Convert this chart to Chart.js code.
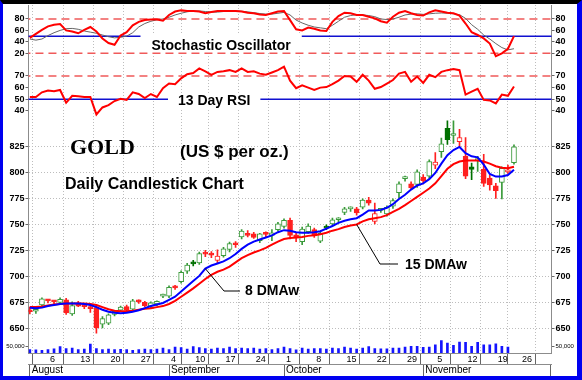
<!DOCTYPE html>
<html>
<head>
<meta charset="utf-8">
<title>Gold daily candlestick chart</title>
<script src="https://cdn.jsdelivr.net/npm/chart.js@4.4.1/dist/chart.umd.min.js"></script>
<style>
  html, body { margin: 0; padding: 0; background: #fff; }
  #frame {
    position: absolute; left: 0; top: 0;
    width: 574px; height: 372px;
    border-top: 4px solid #000;
    border-left: 3px solid #0000f0;
    border-right: 5px solid #0000f0;
    border-bottom: 4px solid #0000f0;
    background: #fff;
  }
  canvas { display: block; }
</style>
</head>
<body>
<div id="frame"><canvas id="chart" width="574" height="372"></canvas></div>
<script>
// trading days shown on the axis (data stops on 11/23, axis runs on to 12/3)
const dates = [
  "8/1", "8/2", "8/3", "8/6", "8/7", "8/8", "8/9", "8/10", "8/13", "8/14", "8/15", "8/16", "8/17",
  "8/20", "8/21", "8/22", "8/23", "8/24", "8/27", "8/28", "8/29", "8/30", "8/31",
  "9/4", "9/5", "9/6", "9/7", "9/10", "9/11", "9/12", "9/13", "9/14", "9/17", "9/18", "9/19", "9/20", "9/21",
  "9/24", "9/25", "9/26", "9/27", "9/28",
  "10/1", "10/2", "10/3", "10/4", "10/5", "10/8", "10/9", "10/10", "10/11", "10/12", "10/15", "10/16", "10/17",
  "10/18", "10/19", "10/22", "10/23", "10/24", "10/25", "10/26", "10/29", "10/30", "10/31",
  "11/1", "11/2", "11/5", "11/6", "11/7", "11/8", "11/9", "11/12", "11/13", "11/14", "11/15", "11/16",
  "11/19", "11/20", "11/21", "11/23", "11/26", "11/27", "11/28", "11/29", "11/30", "12/3"
];

const open = [
  668.5, 667, 673, 677.5, 676.5, 675.5, 678, 664.5, 675, 672.5, 671, 670.5, 654.5, 655.5, 664, 668, 671.5,
  669, 676.5, 675.5, 672, 674, 681.5, 681.5, 690.5, 695.5, 705.5, 714.5, 713.5, 722.5, 723, 716, 720.5,
  726.5, 731.5, 738.5, 742, 741.5, 735, 741.5, 740, 745.5, 748.5, 754.5, 740.5, 734, 743.5, 745.5, 734.5,
  748.5, 751, 755, 762, 765.5, 765.5, 767, 774, 753.5, 764, 760.5, 768, 781, 794.5, 789.5, 789, 796, 797,
  807.5, 820.5, 843, 836, 830, 816, 806, 812, 803.5, 795, 787.5, 791, 801, 810
];
const high = [
  671, 670, 680, 678.5, 677.5, 680, 679.5, 676, 676.5, 674.5, 674, 673, 662, 664.5, 668, 672, 673,
  678.5, 678, 676.5, 676, 677, 683.5, 691.5, 692, 706, 713, 716, 724, 725.5, 724.5, 726, 728.5,
  733.5, 734, 745.5, 744.5, 743, 742, 743.5, 745.5, 752.5, 756, 756.5, 742, 748, 751, 747, 743,
  750, 756.5, 757, 767, 767.5, 767, 775, 776.5, 771, 766, 768.5, 775, 791.5, 797, 791.5, 803, 798.5, 812.5,
  819.5, 833.5, 850, 850, 842, 834, 809.5, 816, 818, 798, 790, 806, 807.5, 827
];
const low = [
  664.5, 665, 671, 675, 674, 675, 664, 663, 671.5, 669.5, 666, 646, 651, 654, 662.5, 667, 667.5,
  668, 674.5, 671.5, 670.5, 672.5, 680, 680, 688, 694, 703.5, 710.5, 712, 719.5, 718.5, 713.5, 719,
  724, 728.5, 736.5, 738.5, 737, 733, 738, 735, 744, 747, 736.5, 734, 731, 742, 738, 733,
  745.5, 749.5, 753, 760, 763, 759.5, 765.5, 769, 751, 762, 758.5, 766, 776, 792, 784, 786, 789.5, 795,
  804, 815, 827.5, 828.5, 825, 794.5, 793.5, 801.5, 787, 783.5, 775.5, 775, 799.5, 808.5
];
const close = [
  666.5, 668.5, 679, 677, 676, 678.5, 665.5, 672.5, 672, 671.5, 669.5, 651, 660, 663.5, 667, 671, 668,
  677, 676, 672.5, 675, 676.5, 682, 690, 689.5, 704.5, 711.5, 712.5, 722.5, 722, 721, 720, 727,
  732, 731, 744, 740, 738, 741.5, 741, 742.5, 751, 754.5, 740, 737.5, 746, 749, 739.5, 742,
  747, 755, 755.5, 765.5, 766, 761.5, 774, 771, 761, 764.5, 767, 773.5, 789.5, 795.5, 785.5, 801, 792.5, 811,
  810.5, 828, 832, 837, 834, 797, 803.5, 812.5, 790, 788.5, 783, 804.5, 803, 825
];

// 8 and 15 day weighted moving averages
const ma8 = [
  670.5, 670, 670.5, 672, 673, 674, 674.5, 674.5, 674.5, 674, 673, 671, 668.5, 666.5, 665.5, 665, 665.5,
  666.5, 668, 670, 672, 673.5, 675, 678, 681, 686, 691, 696, 701, 708, 711, 713, 715,
  718, 722, 727, 731, 734, 736, 738, 740, 743, 745, 744.5, 743, 742.5, 742.5, 743, 744,
  746.5, 749, 752, 754, 755.5, 756.5, 760, 764, 764, 764.5, 766.5, 770, 775, 779, 784, 788, 790, 794,
  800, 809, 817, 822, 825, 819, 816, 815, 808, 799, 796.5, 796.5, 798, 803
];
const ma15 = [
  671, 671, 671.5, 672.5, 673.5, 674, 674.5, 674.5, 674.5, 674.5, 674, 673, 671, 669, 667.5, 667, 667,
  667.5, 668.5, 669.5, 670, 671, 672, 674, 677, 681, 685, 689, 693.5, 698, 702, 705, 707,
  710, 714, 718, 721, 723.5, 725.5, 728, 731, 734, 736.5, 737.5, 738, 738.5, 739.5, 740, 741,
  742.5, 744.5, 746, 748, 749.5, 750.5, 753.5, 755.5, 756.5, 757.5, 759.5, 762.5, 765.5, 769, 773, 777, 781, 785,
  790, 797, 804, 808.5, 811, 812, 812, 812, 811, 809, 806.5, 805, 804.5, 806
];

const stochK = [
  47, 54, 61, 67, 70, 71, 60, 58, 55, 61, 66, 58, 46, 38, 35, 51, 57,
  69, 75, 78, 79, 79, 77, 87, 93, 95, 94, 94, 93, 90, 92, 94, 94,
  94, 94, 93, 91, 90, 88, 87, 90, 93, 94, 78, 62, 60, 65, 63, 60,
  59, 75, 85, 91, 90, 87, 87, 84, 81, 76, 73.5, 84, 91, 94, 90, 87, 86, 91.5,
  95, 93, 91, 90, 86, 72, 57, 52, 46, 37, 15, 20, 28, 50
];
const stochD = [
  45, 43, 45, 51, 56, 60, 63, 63.5, 62, 59, 57, 55, 52, 49, 47, 48, 50,
  56, 66, 72, 76, 78.5, 80, 83, 87, 90, 92.5, 94, 94, 93, 92, 92, 93,
  93.5, 94, 93.5, 92.5, 91, 89.5, 88.5, 88.5, 90, 91.5, 87, 78, 73, 69, 66, 64.5,
  63, 69, 76, 83, 86, 87.5, 87, 86, 84, 80, 79, 80, 83, 87, 88.5, 89, 88, 89,
  90, 90.5, 90, 89, 87.5, 81, 70, 62, 52, 45, 37, 30, 26, 28
];
const rsi13 = [
  52, 52, 56, 57.5, 57, 58, 47, 53, 52.5, 52, 52, 37, 43, 45, 48.5, 50.5, 49.5,
  56, 54.5, 51, 54.5, 52, 59.5, 63.5, 63, 68, 71.5, 72.5, 76.5, 74, 71, 73.5, 74,
  75, 73.5, 76.5, 73.5, 74, 72, 71, 73, 75, 78, 66, 59.5, 62, 60, 58, 60,
  60.5, 63, 66, 70, 69.5, 65, 71, 66, 59, 60.5, 63.5, 66.5, 72, 73.5, 65, 69.5, 64, 71,
  69, 73.5, 75, 76, 75, 54, 56.5, 59, 49.5, 49, 46.5, 54, 53, 61
];
const volume = [
  28000, 26000, 22000, 27000, 34000, 52000, 36000, 40000, 27000, 32000, 72000, 36000, 28000, 32000, 27000, 30000, 27000,
  22000, 28000, 32000, 27000, 31000, 40000, 27000, 48000, 44000, 32000, 52000, 44000, 36000, 32000, 40000, 36000,
  48000, 36000, 40000, 36000, 40000, 32000, 36000, 28000, 36000, 48000, 36000, 26000, 40000, 32000, 36000, 36000,
  32000, 40000, 36000, 48000, 40000, 32000, 40000, 52000, 36000, 34000, 34000, 40000, 40000, 48000, 54000, 54000, 46000, 48000,
  66000, 100000, 80000, 62000, 88000, 86000, 54000, 86000, 66000, 66000, 74000, 54000, 48000
];

const stochLevels = [80, 20];
const stochMid = 50;
const rsiLevels = [70];
const rsiMid = 50;

const weekTicks = ["8/6", "8/13", "8/20", "8/27", "9/4", "9/10", "9/17", "9/24", "10/1", "10/8", "10/15",
  "10/22", "10/29", "11/5", "11/12", "11/19", "11/26", "12/3"];
const weekTickLabels = ["6", "13", "20", "27", "4", "10", "17", "24", "1", "8", "15", "22", "29", "5", "12", "19", "26", ""];
const monthTicks = ["8/1", "9/4", "10/1", "11/1", "12/3"];
const monthLabels = ["August", "September", "October", "November", ""];
const priceTicks = [650, 675, 700, 725, 750, 775, 800, 825];
const stochTicks = [20, 40, 60, 80];
const rsiTicks = [40, 50, 60, 70];
const volumeTicks = [50000];

(function () {
    const FONT = '"Liberation Sans", Arial, sans-serif';
    Chart.defaults.font.family = FONT;

    const weekIdx = weekTicks.map((d) => dates.indexOf(d));
    const monthIdx = monthTicks.map((d) => dates.indexOf(d));
    const xMin = -0.22;
    const xMax = 86.2;

    const GREEN = "#3a9a3a";
    const GREEN_FILL = "#007000";
    const RED = "#ff2020";

    function candleStyle(i) {
        if (i == null) return { line: GREEN, fill: "#fff" };
        const prev = i > 0 ? close[i - 1] : open[i];
        const up = close[i] >= prev;
        const hollow = close[i] >= open[i];
        const line = up ? (hollow ? GREEN : GREEN_FILL) : RED;
        return { line, fill: hollow ? "#fff" : line };
    }

    const xy = (arr) => arr.map((v, i) => ({ x: i, y: v }));
    const span = (v) => [{ x: xMin - 1, y: v }, { x: xMax + 1, y: v }];

    function level(v, axis, color, dash) {
        return {
            type: "line", data: span(v), yAxisID: axis,
            borderColor: color, borderWidth: 1.5, borderDash: dash,
            pointRadius: 0, order: 8,
        };
    }

    /* one panel axis; left and right stacks mirror each other */
    function panelAxis(side, weight, stackWeight, min, max, values, extra) {
        return Object.assign({
            type: "linear", position: side, stack: side + "Stack", stackWeight, weight,
            min, max,
            afterBuildTicks: (s) => { s.ticks = values.map((v) => ({ value: v })); },
            afterFit: (s) => {
                s.width = 25.5;
                s.paddingTop = 0; s.paddingBottom = 0; s.paddingLeft = 0; s.paddingRight = 0;
            },
            ticks: { autoSkip: false, color: "#000", font: { size: 9, weight: "bold" }, padding: 1 },
            grid: { drawOnChartArea: false, tickLength: 3, tickColor: "#666" },
            border: { color: "#8c8c8c" },
        }, extra || {});
    }

    const priceGrid = { drawOnChartArea: true, color: "#bdbdbd", tickLength: 3, tickColor: "#666" };
    const volTicks = { autoSkip: false, color: "#000", font: { size: 6 }, padding: 1 };

    const labels = {
        id: "labels",
        afterDatasetsDraw(chart) {
            const ctx = chart.ctx;
            const { x, yPrice } = chart.scales;
            ctx.save();
            ctx.font = "bold 14px " + FONT;
            ctx.fillStyle = "#000";
            // panel names sit on a white patch that breaks the blue 50 line
            [["Stochastic Oscillator", 148.5, 46, 31, 17, 11], ["13 Day RSI", 175, 100.5, 89, 15, 10]]
                .forEach(([t, tx, ty, by, bh, pad]) => {
                    const w = ctx.measureText(t).width;
                    ctx.fillStyle = "#fff";
                    ctx.fillRect(tx - pad, by, w + pad * 2, bh);
                    ctx.fillStyle = "#000";
                    ctx.fillText(t, tx, ty);
                });

            // moving average call-outs
            ctx.strokeStyle = "#000";
            ctx.lineWidth = 1;
            const callouts = [
                { text: "8 DMAw", series: ma8, idx: 29, mid: [221, 287], end: [237, 287], tx: 242, ty: 291 },
                { text: "15 DMAw", series: ma15, idx: 54, mid: [377, 260], end: [395, 260], tx: 402, ty: 264.5 },
            ];
            callouts.forEach((c) => {
                ctx.beginPath();
                ctx.moveTo(x.getPixelForValue(c.idx), yPrice.getPixelForValue(c.series[c.idx]));
                ctx.lineTo(c.mid[0], c.mid[1]);
                ctx.lineTo(c.end[0], c.end[1]);
                ctx.stroke();
                ctx.fillText(c.text, c.tx, c.ty);
            });

            ctx.font = "bold 22px \"Liberation Serif\", \"Times New Roman\", serif";
            ctx.fillText("GOLD", 67, 149.5);
            ctx.font = "bold 17px " + FONT;
            ctx.fillText("(US $ per oz.)", 177, 152.5);
            ctx.font = "bold 16px " + FONT;
            ctx.fillText("Daily Candlestick Chart", 62, 184.5);
            ctx.restore();
        },
    };

    new Chart(document.getElementById("chart"), {
        type: "line",
        data: {
            datasets: [
                { type: "line", label: "%K", data: xy(stochK), yAxisID: "yStoch", borderColor: "#ff0000", borderWidth: 2, pointRadius: 0, order: 1 },
                { type: "line", label: "%D", data: xy(stochD), yAxisID: "yStoch", borderColor: "#666", borderWidth: 1, pointRadius: 0, order: 2 },
                level(stochLevels[0], "yStoch", "#f05a5a", [8, 5]),
                level(stochLevels[1], "yStoch", "#f05a5a", [8, 5]),
                level(stochMid, "yStoch", "#1010d0", []),
                { type: "line", label: "RSI", data: xy(rsi13), yAxisID: "yRsi", borderColor: "#ff0000", borderWidth: 2, pointRadius: 0, order: 1 },
                level(rsiLevels[0], "yRsi", "#f05a5a", [8, 5]),
                level(rsiMid, "yRsi", "#1010d0", []),
                { type: "line", label: "8 DMAw", data: xy(ma8), yAxisID: "yPrice", borderColor: "#0000ff", borderWidth: 2, pointRadius: 0, order: 0 },
                { type: "line", label: "15 DMAw", data: xy(ma15), yAxisID: "yPrice", borderColor: "#ff0000", borderWidth: 2, pointRadius: 0, order: 1 },
                {
                    type: "bar", label: "Body", yAxisID: "yPrice",
                    data: open.map((o, i) => ({ x: i, y: [o, close[i]] })),
                    barThickness: 5, grouped: false, borderSkipped: false, minBarLength: 2, borderWidth: 1,
                    borderColor: (c) => candleStyle(c.dataIndex).line,
                    backgroundColor: (c) => candleStyle(c.dataIndex).fill,
                    order: 3,
                },
                {
                    type: "bar", label: "Wick", yAxisID: "yPrice",
                    data: high.map((h, i) => ({ x: i, y: [low[i], h] })),
                    barThickness: 1, grouped: false, borderWidth: 0,
                    backgroundColor: (c) => candleStyle(c.dataIndex).line,
                    order: 4,
                },
                {
                    type: "bar", label: "Volume", yAxisID: "yVol", data: xy(volume),
                    barThickness: 2, grouped: false, borderWidth: 0, backgroundColor: "#1414ff", order: 5,
                },
            ],
        },
        plugins: [labels],
        options: {
            responsive: false,
            animation: false,
            events: [],
            layout: { padding: { top: 1, left: 0, right: 0, bottom: 0 }, autoPadding: false },
            plugins: { legend: { display: false }, tooltip: { enabled: false } },
            scales: {
                x: {
                    type: "linear", position: "bottom", weight: 1, min: xMin, max: xMax, offset: false,
                    afterBuildTicks: (s) => { s.ticks = weekIdx.map((v) => ({ value: v })); },
                    afterFit: (s) => { s.height = 11; s.paddingLeft = 0; s.paddingRight = 0; },
                    ticks: {
                        autoSkip: false, maxRotation: 0, align: "start", labelOffset: 2, padding: -10,
                        color: "#000", font: { size: 9 },
                        callback: (v) => weekTickLabels[weekIdx.indexOf(v)],
                    },
                    grid: { color: "#bdbdbd", tickColor: "#666", tickLength: 11 },
                    border: { color: "#8c8c8c", dash: [1, 2] },
                },
                xMonth: {
                    type: "linear", position: "bottom", weight: 2, min: xMin, max: xMax, offset: false,
                    afterBuildTicks: (s) => { s.ticks = monthIdx.map((v) => ({ value: v })); },
                    afterFit: (s) => { s.height = 12; s.paddingLeft = 0; s.paddingRight = 0; },
                    ticks: {
                        autoSkip: false, maxRotation: 0, align: "start", labelOffset: 2, padding: -12,
                        color: "#000", font: { size: 10 },
                        callback: (v) => monthLabels[monthIdx.indexOf(v)],
                    },
                    grid: { drawOnChartArea: false, tickColor: "#666", tickLength: 12 },
                    border: { color: "#8c8c8c" },
                },
                yStoch: panelAxis("left", 4, 58.5, 2.2, 104.4, stochTicks),
                yRsi: panelAxis("left", 3, 53.5, 34.8, 80.7, rsiTicks),
                yPrice: panelAxis("left", 2, 221, 641.3, 853.8, priceTicks, { grid: priceGrid, border: { color: "#8c8c8c", dash: [1, 2] } }),
                yVol: panelAxis("left", 1, 15, 0, 120000, volumeTicks, { ticks: volTicks }),
                yStochR: panelAxis("right", 1, 58.5, 2.2, 104.4, stochTicks),
                yRsiR: panelAxis("right", 2, 53.5, 34.8, 80.7, rsiTicks),
                yPriceR: panelAxis("right", 3, 221, 641.3, 853.8, priceTicks),
                yVolR: panelAxis("right", 4, 15, 0, 120000, volumeTicks, { ticks: volTicks }),
            },
        },
    });
})();
</script>
</body>
</html>
